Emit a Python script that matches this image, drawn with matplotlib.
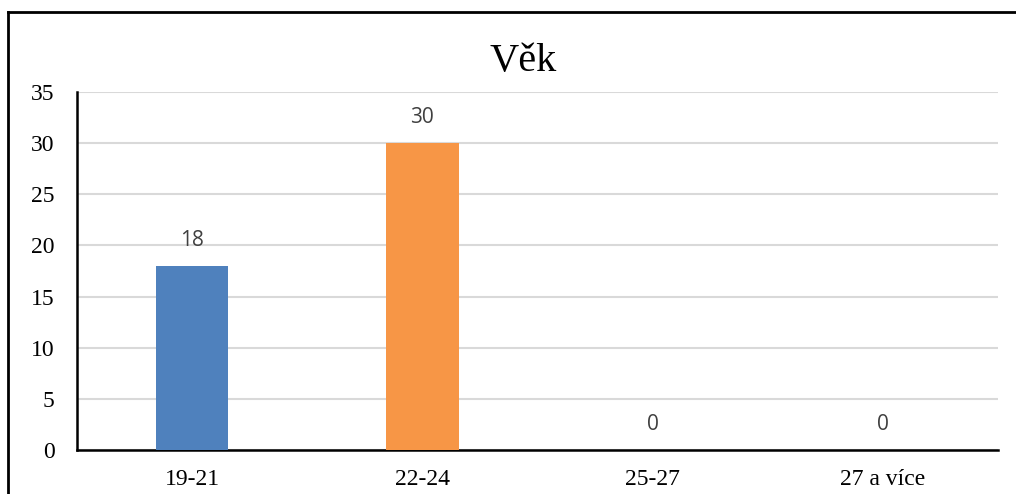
import matplotlib.pyplot as plt
from matplotlib.lines import Line2D

# age groups and number of respondents
categories = ['19-21', '22-24', '25-27', '27 a více']
counts = [18, 30, 0, 0]
bar_colors = ['#4f81bd', '#f79646', '#9bbb59', '#8064a2']

W, H = 1016, 494
fig = plt.figure(figsize=(W / 100, H / 100), dpi=100)
ax = fig.add_axes([77 / W, 1 - 450 / H, (998 - 77) / W, (450 - 92) / H])

x = range(len(categories))
bars = ax.bar(x, counts, width=0.315, color=bar_colors, zorder=3)

for b, v in zip(bars, counts):
    ax.annotate(str(v), (b.get_x() + b.get_width() / 2, v), xytext=(0, 11),
                textcoords='offset points', ha='center', va='bottom',
                fontsize=15, color='#404040', family='Open Sans')

ax.set_xlim(-0.5, len(categories) - 0.5)
ax.set_ylim(0, 35)
ax.set_yticks(range(0, 36, 5))
ax.set_xticks(list(x))
ax.set_xticklabels(categories)
ax.grid(axis='y', color='#d9d9d9', linewidth=1.5, zorder=0)
ax.tick_params(length=0, labelsize=17)
ax.tick_params(axis='x', pad=14)
ax.tick_params(axis='y', pad=16)
for lbl in ax.get_xticklabels() + ax.get_yticklabels():
    lbl.set_family('Liberation Serif')

for s in ['top', 'right']:
    ax.spines[s].set_visible(False)
for s in ['left', 'bottom']:
    ax.spines[s].set_linewidth(1.8)
    ax.spines[s].set_color('black')

fig.text(523 / W, 1 - 62 / H, 'Věk', ha='center', va='center',
         fontsize=29, family='Liberation Serif')

# frame around the chart area
fig.add_artist(Line2D([8 / W, 8 / W], [0, 1 - 12 / H], color='black', lw=2))
fig.add_artist(Line2D([8 / W, 1], [1 - 12 / H, 1 - 12 / H], color='black', lw=2))

fig.savefig('out.png', dpi=100)
